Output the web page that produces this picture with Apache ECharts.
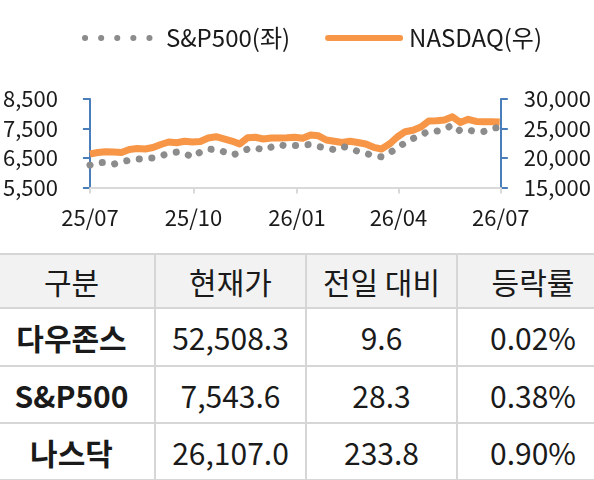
<!DOCTYPE html>
<html>
<head>
<meta charset="utf-8">
<script src="https://cdn.jsdelivr.net/npm/echarts@6/dist/echarts.min.js"></script>
<style>
  html, body { margin: 0; padding: 0; background: #fff; }
  body { width: 594px; height: 480px; overflow: hidden; position: relative; font-family: "Noto Sans CJK KR", sans-serif; }
  #chart { position: absolute; left: 0; top: 0; width: 594px; height: 250px; }
  #tbl { position: absolute; left: -11px; top: 253px; border-collapse: collapse; table-layout: fixed; width: 620px; }
  #tbl td, #tbl th { border: 2px solid #d6d6d6; text-align: center; font-size: 30px; color: #1a1a1a; padding: 0; white-space: nowrap; }
  #tbl th { background: #f2f2f2; font-weight: normal; }
  #tbl td.name { font-weight: bold; }
  #tbl tr > *:first-child { border-left: none; }
</style>
</head>
<body>
<div id="chart"></div>
<table id="tbl">
  <colgroup><col style="width:166px"><col style="width:151px"><col style="width:151px"><col style="width:152px"></colgroup>
  <thead><tr id="head" style="height:54px"></tr></thead>
  <tbody id="body"></tbody>
</table>
<script>
// 주간 데이터
var dates = [
  '2025-07-01', '2025-07-08', '2025-07-15', '2025-07-22', '2025-07-29', '2025-08-05', '2025-08-12',
  '2025-08-19', '2025-08-26', '2025-09-02', '2025-09-09', '2025-09-16', '2025-09-23', '2025-09-30',
  '2025-10-07', '2025-10-14', '2025-10-21', '2025-10-28', '2025-11-04', '2025-11-11', '2025-11-18',
  '2025-11-25', '2025-12-02', '2025-12-09', '2025-12-16', '2025-12-23', '2025-12-30', '2026-01-06',
  '2026-01-13', '2026-01-20', '2026-01-27', '2026-02-03', '2026-02-10', '2026-02-17', '2026-02-24',
  '2026-03-03', '2026-03-10', '2026-03-17', '2026-03-24', '2026-03-31', '2026-04-07', '2026-04-14',
  '2026-04-21', '2026-04-28', '2026-05-05', '2026-05-12', '2026-05-19', '2026-05-26', '2026-06-02',
  '2026-06-09', '2026-06-16', '2026-06-23', '2026-06-30'
];
var spx = [
  6260, 6340, 6350, 6290, 6360, 6430, 6460, 6480, 6500, 6570, 6660, 6700, 6660, 6530,
  6700, 6800, 6790, 6710, 6600, 6680, 6800, 6850, 6770, 6870, 6960, 6900, 6920, 6940,
  6960, 6890, 6840, 6780, 6890, 6840, 6720, 6660, 6570, 6540, 6670, 6840, 7020, 7160,
  7280, 7410, 7410, 7480, 7620, 7410, 7450, 7390, 7400, 7500, 7544
];
var nasdaq = [
  20680, 20930, 21070, 21020, 20930, 21440, 21600, 21520, 21780, 22290, 22710, 22590, 22830, 22710,
  22800, 23390, 23610, 23250, 22880, 22370, 23420, 23510, 23220, 23390, 23390, 23420, 23510, 23340,
  23900, 23760, 23050, 22830, 22630, 22830, 22630, 22370, 21810, 21520, 22370, 23560, 24460, 24700,
  25250, 26270, 26300, 26440, 27000, 26020, 26560, 26190, 26150, 26150, 26107
];
var tickDates = ['2025-07-01', '2025-10-01', '2026-01-01', '2026-04-01', '2026-07-01'];
var tickLabels = ['25/07', '25/10', '26/01', '26/04', '26/07'];
var spTicks = [5500, 6500, 7500, 8500];

// 표
var tableHead = ['구분', '현재가', '전일 대비', '등락률'];
var tableNames = ['다우존스', 'S&P500', '나스닥'];
var tablePrice = ['52,508.3', '7,543.6', '26,107.0'];
var tableChange = ['9.6', '28.3', '233.8'];
var tableRate = ['0.02%', '0.38%', '0.90%'];

var FONT = '"Noto Sans CJK KR", sans-serif';
var DAY = 86400000;
function dayOf(d) { return (Date.parse(d) - Date.parse(dates[0])) / DAY; }
var tickDays = tickDates.map(dayOf);

var spData = [], nqData = [];
for (var i = 0; i < dates.length; i++) {
  spData.push([dayOf(dates[i]), spx[i]]);
  nqData.push([dayOf(dates[i]), nasdaq[i]]);
}

var blue = '#4a7ebb';
var labelColor = '#1a1a1a';

var option = {
  animation: false,
  textStyle: { fontFamily: FONT },
  legend: {
    top: 21,
    left: 77,
    itemWidth: 72,
    itemHeight: 14,
    itemGap: 35,
    textStyle: { fontSize: 24, color: labelColor, fontFamily: FONT, padding: [0, 0, 0, 4] },
    data: [
      { name: 'S&P500(좌)', itemStyle: { opacity: 0 },
        lineStyle: { type: [0.1, 16], width: 6, cap: 'round', color: '#8c8c8c' } },
      { name: 'NASDAQ(우)', itemStyle: { opacity: 0 },
        lineStyle: { width: 6, cap: 'round', color: '#f79646' } }
    ]
  },
  grid: { left: 85, right: 93, top: 99, bottom: 62.5 },
  xAxis: {
    type: 'value',
    min: 0,
    max: 365,
    axisLine: { onZero: false, lineStyle: { color: '#d9d9d9', width: 2 } },
    axisTick: { show: true, customValues: tickDays, length: 6, lineStyle: { color: '#d9d9d9', width: 2 } },
    axisLabel: {
      customValues: tickDays,
      formatter: function (v) { return tickLabels[tickDays.indexOf(v)]; },
      fontSize: 22, color: labelColor, margin: 19, fontFamily: FONT
    },
    splitLine: { show: false }
  },
  yAxis: [
    {
      type: 'value', position: 'left', min: 5500, max: 8500,
      axisLine: { show: true, lineStyle: { color: blue, width: 2 } },
      axisTick: { show: true, customValues: spTicks, length: 7, lineStyle: { color: blue, width: 2 } },
      axisLabel: {
        customValues: spTicks,
        formatter: function (v) { return v.toLocaleString('en-US'); },
        fontSize: 22, color: labelColor, margin: 32, fontFamily: FONT
      },
      splitLine: { show: false }
    },
    {
      type: 'value', position: 'right', min: 15000, max: 30000, interval: 5000,
      axisLine: { show: true, lineStyle: { color: blue, width: 2 } },
      axisTick: { show: true, length: 7, lineStyle: { color: blue, width: 2 } },
      axisLabel: {
        formatter: function (v) { return v.toLocaleString('en-US'); },
        fontSize: 22, color: labelColor, margin: 23, fontFamily: FONT
      },
      splitLine: { show: false }
    }
  ],
  series: [
    {
      name: 'NASDAQ(우)', type: 'line', yAxisIndex: 1, data: nqData,
      symbol: 'none', itemStyle: { color: '#f79646' },
      lineStyle: { color: '#f79646', width: 7, join: 'round' }
    },
    {
      name: 'S&P500(좌)', type: 'line', yAxisIndex: 0, data: spData,
      symbol: 'none', itemStyle: { color: '#8c8c8c' },
      lineStyle: { color: '#8c8c8c', width: 7, type: [0.1, 12.5], cap: 'round' }
    }
  ]
};

var myChart = echarts.init(document.getElementById('chart'));
myChart.setOption(option);

// 표 만들기
var head = document.getElementById('head');
tableHead.forEach(function (h) {
  var th = document.createElement('th');
  th.textContent = h;
  head.appendChild(th);
});
var body = document.getElementById('body');
var rowHeights = [58, 57, 57];
for (var r = 0; r < tableNames.length; r++) {
  var tr = document.createElement('tr');
  tr.style.height = rowHeights[r] + 'px';
  var cells = [tableNames[r], tablePrice[r], tableChange[r], tableRate[r]];
  cells.forEach(function (c, k) {
    var td = document.createElement('td');
    td.textContent = c;
    if (k === 0) td.className = 'name';
    tr.appendChild(td);
  });
  body.appendChild(tr);
}
</script>
</body>
</html>
